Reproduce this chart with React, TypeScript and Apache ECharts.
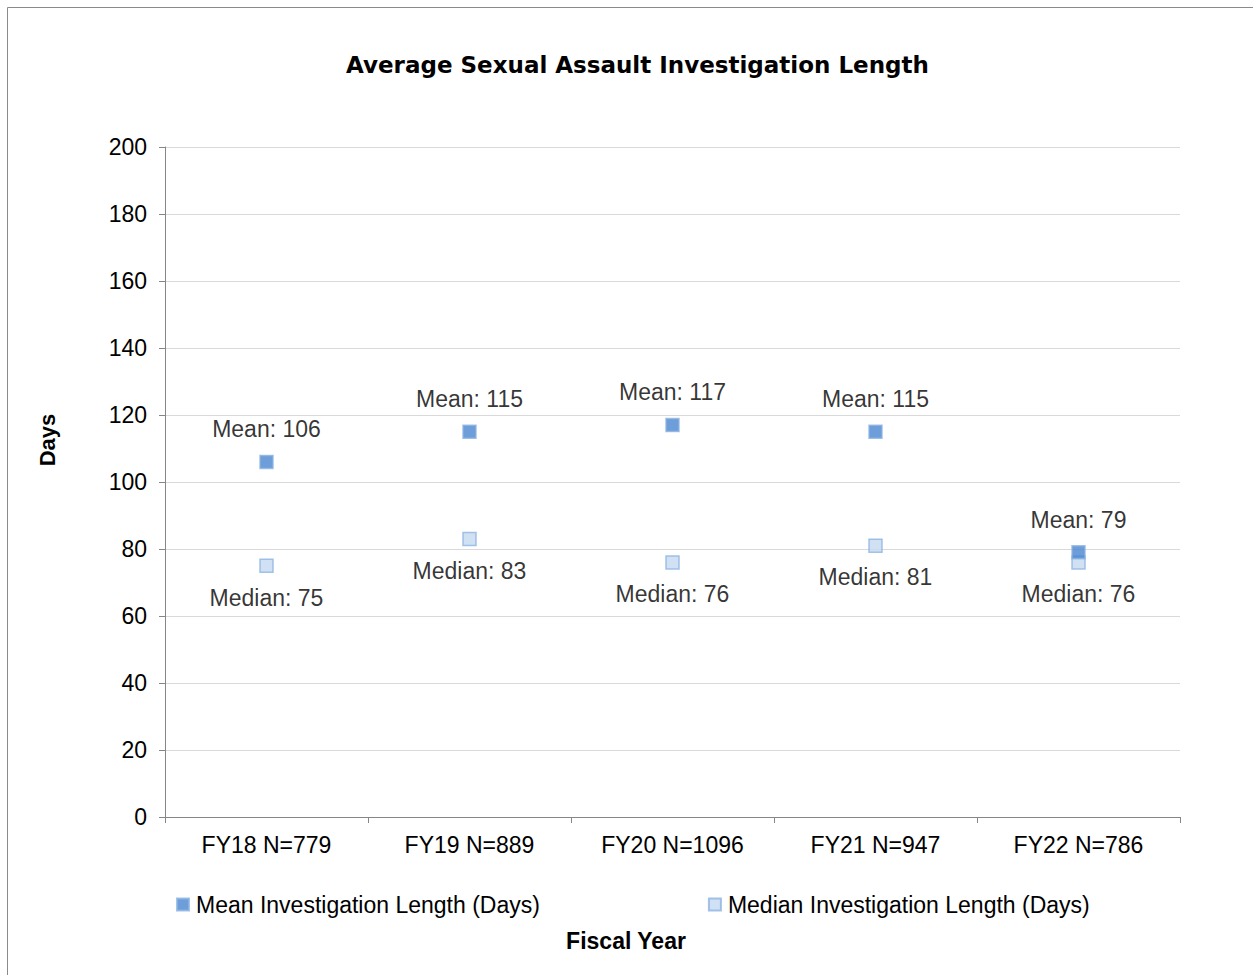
import React, { useEffect, useRef } from "react";
import * as echarts from "echarts";

const categories = ["FY18 N=779", "FY19 N=889", "FY20 N=1096", "FY21 N=947", "FY22 N=786"];
const meanValues = [106, 115, 117, 115, 79];
const medianValues = [75, 83, 76, 81, 76];
const seriesNames = ["Mean Investigation Length (Days)", "Median Investigation Length (Days)"];

export default function App() {
  const ref = useRef<HTMLDivElement>(null);
  useEffect(() => {
    const chart = echarts.init(ref.current!, null, { renderer: "svg" });
    const font = "Liberation Sans, Arial, sans-serif";
    const fs = 23;
    chart.setOption({
      animation: false,
      backgroundColor: "#fff",
      textStyle: { fontFamily: font },
      title: {
        text: "Average Sexual Assault Investigation Length",
        left: 341,
        top: 48,
        textStyle: { fontFamily: "DejaVu Sans", fontSize: 23, fontWeight: "bold", color: "#000" },
      },
      graphic: [
        {
          type: "rect",
          shape: { x: 7.5, y: 7.5, width: 1260, height: 1000 },
          style: { fill: "none", stroke: "#8a8a8a", lineWidth: 1 },
          silent: true,
        },
        {
          type: "text",
          x: 626,
          y: 941,
          style: {
            text: "Fiscal Year",
            fontFamily: font,
            fontSize: 23,
            fontWeight: "bold",
            fill: "#000",
            align: "center",
            verticalAlign: "middle",
          },
        },
        {
          type: "text",
          x: 47,
          y: 440,
          rotation: Math.PI / 2,
          style: {
            text: "Days",
            fontFamily: font,
            fontSize: 22,
            fontWeight: "bold",
            fill: "#000",
            align: "center",
            verticalAlign: "middle",
          },
        },
      ],
      legend: {
        left: 171,
        top: 888,
        itemGap: 168,
        itemWidth: 12,
        itemHeight: 12,
        icon: "rect",
        textStyle: { fontFamily: font, fontSize: fs, color: "#000", padding: [0, 0, 0, 2] },
        data: seriesNames,
      },
      grid: { left: 165, right: 73, top: 147, bottom: 158 },
      xAxis: {
        type: "category",
        data: categories,
        boundaryGap: true,
        axisLine: { lineStyle: { color: "#868686", width: 1 } },
        axisTick: { show: true, alignWithLabel: false, length: 6, lineStyle: { color: "#868686" } },
        axisLabel: { fontFamily: font, fontSize: fs, color: "#000", margin: 16 },
        splitLine: { show: false },
      },
      yAxis: {
        type: "value",
        min: 0,
        max: 200,
        interval: 20,
        axisLine: { show: true, lineStyle: { color: "#868686", width: 1 } },
        axisTick: { show: true, length: 6, lineStyle: { color: "#868686" } },
        axisLabel: { fontFamily: font, fontSize: fs, color: "#000", margin: 18 },
        splitLine: { lineStyle: { color: "#d9d9d9", width: 1 } },
      },
      series: [
        {
          name: seriesNames[0],
          type: "scatter",
          symbol: "rect",
          symbolSize: 13,
          data: meanValues,
          itemStyle: { color: "#4a86d0", borderColor: "#8db4e2", borderWidth: 1.5 },
          label: {
            show: true,
            position: "top",
            distance: 14,
            formatter: (p: any) => "Mean: " + p.value,
            fontFamily: font,
            fontSize: fs,
            color: "#000",
          },
          z: 3,
        },
        {
          name: seriesNames[1],
          type: "scatter",
          symbol: "rect",
          symbolSize: 13,
          data: medianValues,
          itemStyle: { color: "#c6d9f1", borderColor: "#8db4e2", borderWidth: 1.5 },
          label: {
            show: true,
            position: "bottom",
            distance: 13,
            formatter: (p: any) => "Median: " + p.value,
            fontFamily: font,
            fontSize: fs,
            color: "#000",
          },
          z: 2,
        },
      ],
    });
    return () => chart.dispose();
  }, []);
  return (
    <div
      ref={ref}
      style={{ position: "absolute", left: 0, top: 0, width: 1253, height: 975 }}
    />
  );
}
